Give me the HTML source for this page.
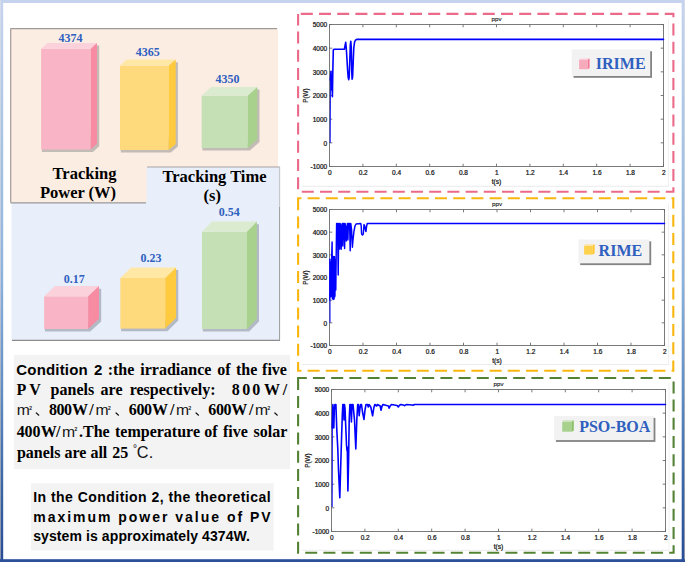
<!DOCTYPE html>
<html><head><meta charset="utf-8"><style>
html,body{margin:0;padding:0;background:#fff;}
body{width:685px;height:562px;overflow:hidden;font-family:"Liberation Sans",sans-serif;}
svg{display:block;}
</style></head><body>
<svg width="685" height="562" viewBox="0 0 685 562">

<defs>
 <linearGradient id="frameG" gradientUnits="userSpaceOnUse" x1="0" y1="0" x2="0" y2="562">
  <stop offset="0" stop-color="#c6d3ee"/>
  <stop offset="0.25" stop-color="#a8c4e4"/>
  <stop offset="0.5" stop-color="#8ab2de"/>
  <stop offset="0.72" stop-color="#5a88c0"/>
  <stop offset="0.86" stop-color="#3a66a8"/>
  <stop offset="1" stop-color="#284c98"/>
 </linearGradient>
 <linearGradient id="frameG2" gradientUnits="userSpaceOnUse" x1="0" y1="0" x2="0" y2="562">
  <stop offset="0" stop-color="#d6dcea"/>
  <stop offset="0.25" stop-color="#c8d4e0"/>
  <stop offset="0.5" stop-color="#c0c8d8"/>
  <stop offset="0.72" stop-color="#a0acbc"/>
  <stop offset="1" stop-color="#8a94a8"/>
 </linearGradient>
 <filter id="sh" x="-20%" y="-20%" width="150%" height="150%">
  <feGaussianBlur stdDeviation="1.2"/>
 </filter>
 <filter id="sh3" x="-20%" y="-20%" width="150%" height="150%">
  <feGaussianBlur stdDeviation="0.6"/>
 </filter>
 <filter id="sh2" x="-20%" y="-20%" width="150%" height="150%">
  <feGaussianBlur stdDeviation="0.8"/>
 </filter>
</defs>
<rect x="0" y="0" width="685" height="562" fill="#ffffff"/>
<rect x="11.5" y="166.5" width="268" height="173.5" fill="#e8effa"/>
<line x1="12" y1="340.3" x2="280" y2="340.3" stroke="#8c8c8c" stroke-width="1.2"/>
<line x1="279.6" y1="167" x2="279.6" y2="340.5" stroke="#9a9a9a" stroke-width="1"/>
<rect x="10.5" y="28.5" width="267.5" height="174" fill="#fcede3"/>
<line x1="10.5" y1="28.6" x2="277" y2="28.6" stroke="#a09a96" stroke-width="1.2"/>
<line x1="10.7" y1="28.5" x2="10.7" y2="202.5" stroke="#a09a96" stroke-width="1.2"/>
<line x1="10.5" y1="202.8" x2="146" y2="202.8" stroke="#9a9a9a" stroke-width="1.2"/>
<rect x="146.5" y="167" width="133" height="40" fill="#e8effa"/>
<line x1="147" y1="167" x2="279.6" y2="167" stroke="#a8a4a4" stroke-width="1.2"/>
<polygon points="41.9,148.5 41.9,152.1 92.9,152.1 99.2,146.3 99.2,45.5 96,45.5 89.7,148.5" fill="#c2bbb6" filter="url(#sh3)"/>
<rect x="41.1" y="48.7" width="49.6" height="100.8" fill="#f9b5c5"/>
<polygon points="41.1,48.7 47.4,42.9 97,42.9 90.7,48.7" fill="#fbd2dc"/>
<polygon points="90.7,48.7 97,42.9 97,143.7 90.7,149.5" fill="#f68ba2"/>
<polygon points="120.8,149 120.8,152.6 170.9,152.6 177.9,146.6 177.9,62.2 174.7,62.2 167.7,149" fill="#c2bbb6" filter="url(#sh3)"/>
<rect x="120" y="65.6" width="48.7" height="84.4" fill="#ffda7c"/>
<polygon points="120,65.6 127,59.6 175.7,59.6 168.7,65.6" fill="#ffe7a6"/>
<polygon points="168.7,65.6 175.7,59.6 175.7,144 168.7,150" fill="#ffca3e"/>
<polygon points="202.4,147 202.4,150.6 250,150.6 259.5,142 259.5,89.6 256.3,89.6 246.8,147" fill="#c2bbb6" filter="url(#sh3)"/>
<rect x="201.6" y="95.6" width="46.2" height="52.4" fill="#c5e0b4"/>
<polygon points="201.6,95.6 211.1,87 257.3,87 247.8,95.6" fill="#dbebd0"/>
<polygon points="247.8,95.6 257.3,87 257.3,139.4 247.8,148" fill="#a9d18e"/>
<polygon points="44.9,328 44.9,331.6 90.3,331.6 101.2,321.4 101.2,288.7 98,288.7 87.1,328" fill="#b4b9c6" filter="url(#sh3)"/>
<rect x="44.1" y="296.3" width="44" height="32.7" fill="#f9b5c5"/>
<polygon points="44.1,296.3 55,286.1 99,286.1 88.1,296.3" fill="#fbd2dc"/>
<polygon points="88.1,296.3 99,286.1 99,318.8 88.1,329" fill="#f68ba2"/>
<polygon points="121.1,327.6 121.1,331.2 167.4,331.2 178.3,320.6 178.3,270 175.1,270 164.2,327.6" fill="#b4b9c6" filter="url(#sh3)"/>
<rect x="120.3" y="278" width="44.9" height="50.6" fill="#ffda7c"/>
<polygon points="120.3,278 131.2,267.4 176.1,267.4 165.2,278" fill="#ffe7a6"/>
<polygon points="165.2,278 176.1,267.4 176.1,318 165.2,328.6" fill="#ffca3e"/>
<polygon points="202.8,328 202.8,331.6 249.1,331.6 259,321.5 259,224.2 255.8,224.2 245.9,328" fill="#b4b9c6" filter="url(#sh3)"/>
<rect x="202" y="231.7" width="44.9" height="97.3" fill="#c5e0b4"/>
<polygon points="202,231.7 211.9,221.6 256.8,221.6 246.9,231.7" fill="#dbebd0"/>
<polygon points="246.9,231.7 256.8,221.6 256.8,318.9 246.9,329" fill="#a9d18e"/>
<text x="70.4" y="41.7" font-family="'Liberation Serif', serif" font-size="12" font-weight="bold" fill="#2f5fbf" text-anchor="middle" >4374</text>
<text x="147.8" y="56" font-family="'Liberation Serif', serif" font-size="12" font-weight="bold" fill="#2f5fbf" text-anchor="middle" >4365</text>
<text x="227.4" y="82.8" font-family="'Liberation Serif', serif" font-size="12" font-weight="bold" fill="#2f5fbf" text-anchor="middle" >4350</text>
<text x="74.2" y="282.6" font-family="'Liberation Serif', serif" font-size="12" font-weight="bold" fill="#2f5fbf" text-anchor="middle" >0.17</text>
<text x="151" y="261.8" font-family="'Liberation Serif', serif" font-size="12" font-weight="bold" fill="#2f5fbf" text-anchor="middle" >0.23</text>
<text x="229.2" y="216.3" font-family="'Liberation Serif', serif" font-size="12" font-weight="bold" fill="#2f5fbf" text-anchor="middle" >0.54</text>
<text x="84.5" y="178.7" font-family="'Liberation Serif', serif" font-size="16.5" font-weight="bold" fill="#000" text-anchor="middle" >Tracking</text>
<text x="78" y="197.7" font-family="'Liberation Serif', serif" font-size="16.5" font-weight="bold" fill="#000" text-anchor="middle" >Power (W)</text>
<text x="214.5" y="182.4" font-family="'Liberation Serif', serif" font-size="16.5" font-weight="bold" fill="#000" text-anchor="middle" >Tracking Time</text>
<text x="212.2" y="201" font-family="'Liberation Serif', serif" font-size="16.5" font-weight="bold" fill="#000" text-anchor="middle" >(s)</text>
<rect x="13.8" y="354.8" width="276.3" height="114.2" fill="#f3f3f3"/>
<rect x="31" y="483.2" width="242.6" height="67.4" fill="#f3f3f3"/>
<text x="16.3" y="375.3" font-family="'Liberation Sans', sans-serif" font-size="15" font-weight="bold" fill="#000" text-anchor="start" textLength="71.4" lengthAdjust="spacing">Condition</text>
<text x="94.1" y="375.3" font-family="'Liberation Sans', sans-serif" font-size="15" font-weight="bold" fill="#000" text-anchor="start" >2</text>
<text x="107.7" y="375.3" font-family="'Liberation Serif', serif" font-size="16" font-weight="bold" fill="#000" text-anchor="start" >:the</text>
<text x="140.3" y="375.3" font-family="'Liberation Serif', serif" font-size="16" font-weight="bold" fill="#000" text-anchor="start" >irradiance</text>
<text x="217.3" y="375.3" font-family="'Liberation Serif', serif" font-size="16" font-weight="bold" fill="#000" text-anchor="start" >of</text>
<text x="236" y="375.3" font-family="'Liberation Serif', serif" font-size="16" font-weight="bold" fill="#000" text-anchor="start" >the</text>
<text x="262.1" y="375.3" font-family="'Liberation Serif', serif" font-size="16" font-weight="bold" fill="#000" text-anchor="start" >five</text>
<text x="16.6" y="394.9" font-family="'Liberation Serif', serif" font-size="16" font-weight="bold" fill="#000" text-anchor="start" >P</text>
<text x="29.2" y="394.9" font-family="'Liberation Serif', serif" font-size="16" font-weight="bold" fill="#000" text-anchor="start" >V</text>
<text x="50.6" y="394.9" font-family="'Liberation Serif', serif" font-size="16" font-weight="bold" fill="#000" text-anchor="start" >panels</text>
<text x="100.6" y="394.9" font-family="'Liberation Serif', serif" font-size="16" font-weight="bold" fill="#000" text-anchor="start" >are</text>
<text x="129.7" y="394.9" font-family="'Liberation Serif', serif" font-size="16" font-weight="bold" fill="#000" text-anchor="start" >respectively:</text>
<text x="231.87" y="394.9" font-family="'Liberation Serif', serif" font-size="16" font-weight="bold" fill="#000" text-anchor="start" >8</text>
<text x="242.29" y="394.9" font-family="'Liberation Serif', serif" font-size="16" font-weight="bold" fill="#000" text-anchor="start" >0</text>
<text x="252.19" y="394.9" font-family="'Liberation Serif', serif" font-size="16" font-weight="bold" fill="#000" text-anchor="start" >0</text>
<text x="263.97" y="394.9" font-family="'Liberation Serif', serif" font-size="16" font-weight="bold" fill="#000" text-anchor="start" >W</text>
<text x="282.66" y="394.9" font-family="'Liberation Serif', serif" font-size="16" font-weight="bold" fill="#000" text-anchor="start" >/</text>
<text x="16.7" y="415.2" font-family="'Liberation Sans', sans-serif" font-size="15.5" fill="#141414" textLength="13.1" lengthAdjust="spacingAndGlyphs">m</text>
<text x="29.2" y="410.1" font-family="'Liberation Sans', sans-serif" font-size="4.8" fill="#141414" stroke="#141414" stroke-width="0.2">2</text>
<path d="M35.4,413 L36.5,412.3 Q38.2,413.7 39.5,415 L38.7,416 Q37.2,414.5 35.4,413 Z" fill="#111"/>
<text x="48.97" y="415.2" font-family="'Liberation Serif', serif" font-size="16" font-weight="bold" fill="#000" text-anchor="start" >8</text>
<text x="56.49" y="415.2" font-family="'Liberation Serif', serif" font-size="16" font-weight="bold" fill="#000" text-anchor="start" >0</text>
<text x="64.09" y="415.2" font-family="'Liberation Serif', serif" font-size="16" font-weight="bold" fill="#000" text-anchor="start" >0</text>
<text x="71.97" y="415.2" font-family="'Liberation Serif', serif" font-size="16" font-weight="bold" fill="#000" text-anchor="start" >W</text>
<text x="89.36" y="415.2" font-family="'Liberation Serif', serif" font-size="16" font-weight="bold" fill="#000" text-anchor="start" >/</text>
<text x="95.5" y="415.2" font-family="'Liberation Sans', sans-serif" font-size="15.5" fill="#141414" textLength="13.1" lengthAdjust="spacingAndGlyphs">m</text>
<text x="108" y="410.1" font-family="'Liberation Sans', sans-serif" font-size="4.8" fill="#141414" stroke="#141414" stroke-width="0.2">2</text>
<path d="M115.1,413 L116.2,412.3 Q117.9,413.7 119.2,415 L118.4,416 Q116.9,414.5 115.1,413 Z" fill="#111"/>
<text x="128.65" y="415.2" font-family="'Liberation Serif', serif" font-size="16" font-weight="bold" fill="#000" text-anchor="start" >6</text>
<text x="136.49" y="415.2" font-family="'Liberation Serif', serif" font-size="16" font-weight="bold" fill="#000" text-anchor="start" >0</text>
<text x="144.09" y="415.2" font-family="'Liberation Serif', serif" font-size="16" font-weight="bold" fill="#000" text-anchor="start" >0</text>
<text x="151.97" y="415.2" font-family="'Liberation Serif', serif" font-size="16" font-weight="bold" fill="#000" text-anchor="start" >W</text>
<text x="169.96" y="415.2" font-family="'Liberation Serif', serif" font-size="16" font-weight="bold" fill="#000" text-anchor="start" >/</text>
<text x="176.1" y="415.2" font-family="'Liberation Sans', sans-serif" font-size="15.5" fill="#141414" textLength="13.1" lengthAdjust="spacingAndGlyphs">m</text>
<text x="188.6" y="410.1" font-family="'Liberation Sans', sans-serif" font-size="4.8" fill="#141414" stroke="#141414" stroke-width="0.2">2</text>
<path d="M195.1,413 L196.2,412.3 Q197.9,413.7 199.2,415 L198.4,416 Q196.9,414.5 195.1,413 Z" fill="#111"/>
<text x="208.35" y="415.2" font-family="'Liberation Serif', serif" font-size="16" font-weight="bold" fill="#000" text-anchor="start" >6</text>
<text x="215.89" y="415.2" font-family="'Liberation Serif', serif" font-size="16" font-weight="bold" fill="#000" text-anchor="start" >0</text>
<text x="223.49" y="415.2" font-family="'Liberation Serif', serif" font-size="16" font-weight="bold" fill="#000" text-anchor="start" >0</text>
<text x="231.17" y="415.2" font-family="'Liberation Serif', serif" font-size="16" font-weight="bold" fill="#000" text-anchor="start" >W</text>
<text x="249.06" y="415.2" font-family="'Liberation Serif', serif" font-size="16" font-weight="bold" fill="#000" text-anchor="start" >/</text>
<text x="254.9" y="415.2" font-family="'Liberation Sans', sans-serif" font-size="15.5" fill="#141414" textLength="13.1" lengthAdjust="spacingAndGlyphs">m</text>
<text x="267.4" y="410.1" font-family="'Liberation Sans', sans-serif" font-size="4.8" fill="#141414" stroke="#141414" stroke-width="0.2">2</text>
<path d="M273.9,413 L275,412.3 Q276.7,413.7 278,415 L277.2,416 Q275.7,414.5 273.9,413 Z" fill="#111"/>
<text x="16.78" y="436.5" font-family="'Liberation Serif', serif" font-size="16" font-weight="bold" fill="#000" text-anchor="start" >4</text>
<text x="24.39" y="436.5" font-family="'Liberation Serif', serif" font-size="16" font-weight="bold" fill="#000" text-anchor="start" >0</text>
<text x="32.49" y="436.5" font-family="'Liberation Serif', serif" font-size="16" font-weight="bold" fill="#000" text-anchor="start" >0</text>
<text x="40.87" y="436.5" font-family="'Liberation Serif', serif" font-size="16" font-weight="bold" fill="#000" text-anchor="start" >W</text>
<text x="56.06" y="436.5" font-family="'Liberation Serif', serif" font-size="16" font-weight="bold" fill="#000" text-anchor="start" >/</text>
<text x="62.1" y="436.5" font-family="'Liberation Sans', sans-serif" font-size="15.5" fill="#141414" textLength="13.1" lengthAdjust="spacingAndGlyphs">m</text>
<text x="74.6" y="431.4" font-family="'Liberation Sans', sans-serif" font-size="4.8" fill="#141414" stroke="#141414" stroke-width="0.2">2</text>
<text x="79" y="436.5" font-family="'Liberation Serif', serif" font-size="16" font-weight="bold" fill="#000" text-anchor="start" >.The</text>
<text x="115" y="436.5" font-family="'Liberation Serif', serif" font-size="16" font-weight="bold" fill="#000" text-anchor="start" >temperature</text>
<text x="204.2" y="436.5" font-family="'Liberation Serif', serif" font-size="16" font-weight="bold" fill="#000" text-anchor="start" >of</text>
<text x="223" y="436.5" font-family="'Liberation Serif', serif" font-size="16" font-weight="bold" fill="#000" text-anchor="start" >five</text>
<text x="253.6" y="436.5" font-family="'Liberation Serif', serif" font-size="16" font-weight="bold" fill="#000" text-anchor="start" >solar</text>
<text x="16.9" y="457.8" font-family="'Liberation Serif', serif" font-size="16" font-weight="bold" fill="#000" text-anchor="start" >panels are all</text>
<text x="112.3" y="457.8" font-family="'Liberation Serif', serif" font-size="16" font-weight="bold" fill="#000" text-anchor="start" >25</text>
<text x="132.9" y="452.2" font-family="'Liberation Sans', sans-serif" font-size="10" font-weight="normal" fill="#111" text-anchor="start" >°</text>
<text x="136.7" y="458.2" font-family="'Liberation Sans', sans-serif" font-size="16.3" font-weight="normal" fill="#111" text-anchor="start" >C</text>
<text x="148.7" y="458.2" font-family="'Liberation Sans', sans-serif" font-size="16.3" font-weight="normal" fill="#111" text-anchor="start" >.</text>
<text x="33.2" y="502.2" font-family="'Liberation Sans', sans-serif" font-size="14" font-weight="bold" fill="#000" text-anchor="start" textLength="237.4" lengthAdjust="spacing">In the Condition 2, the theoretical</text>
<text x="33.2" y="521.9" font-family="'Liberation Sans', sans-serif" font-size="14" font-weight="bold" fill="#000" text-anchor="start" textLength="237.4" lengthAdjust="spacing">maximum power value of PV</text>
<text x="33.2" y="540.7" font-family="'Liberation Sans', sans-serif" font-size="14" font-weight="bold" fill="#000" text-anchor="start" textLength="216.8" lengthAdjust="spacing">system is approximately 4374W.</text>
<rect x="298.1" y="13.9" width="375.3" height="177.8" fill="none" stroke="#eb6a89" stroke-width="2.1" stroke-dasharray="12 6.2" stroke-dashoffset="-2.7"/>
<line x1="302.1" y1="186.3" x2="668.5" y2="186.3" stroke="#ececec" stroke-width="1"/>
<line x1="668.5" y1="18.9" x2="668.5" y2="186.3" stroke="#f0f0f0" stroke-width="1"/>
<rect x="329.5" y="24.5" width="334" height="142" fill="#fff" stroke="#7a7a7a" stroke-width="1"/>
<text x="327.2" y="27.4" font-family="'Liberation Sans', sans-serif" font-size="6.5" fill="#111" stroke="#111" stroke-width="0.22" text-anchor="end">5000</text>
<text x="327.2" y="51.07" font-family="'Liberation Sans', sans-serif" font-size="6.5" fill="#111" stroke="#111" stroke-width="0.22" text-anchor="end">4000</text>
<text x="327.2" y="74.73" font-family="'Liberation Sans', sans-serif" font-size="6.5" fill="#111" stroke="#111" stroke-width="0.22" text-anchor="end">3000</text>
<text x="327.2" y="98.4" font-family="'Liberation Sans', sans-serif" font-size="6.5" fill="#111" stroke="#111" stroke-width="0.22" text-anchor="end">2000</text>
<text x="327.2" y="122.07" font-family="'Liberation Sans', sans-serif" font-size="6.5" fill="#111" stroke="#111" stroke-width="0.22" text-anchor="end">1000</text>
<text x="327.2" y="145.73" font-family="'Liberation Sans', sans-serif" font-size="6.5" fill="#111" stroke="#111" stroke-width="0.22" text-anchor="end">0</text>
<text x="327.2" y="169.4" font-family="'Liberation Sans', sans-serif" font-size="6.5" fill="#111" stroke="#111" stroke-width="0.22" text-anchor="end">-1000</text>
<text x="329.8" y="175" font-family="'Liberation Sans', sans-serif" font-size="6.5" fill="#111" stroke="#111" stroke-width="0.22" text-anchor="middle">0</text>
<text x="363.2" y="175" font-family="'Liberation Sans', sans-serif" font-size="6.5" fill="#111" stroke="#111" stroke-width="0.22" text-anchor="middle">0.2</text>
<text x="396.6" y="175" font-family="'Liberation Sans', sans-serif" font-size="6.5" fill="#111" stroke="#111" stroke-width="0.22" text-anchor="middle">0.4</text>
<text x="430" y="175" font-family="'Liberation Sans', sans-serif" font-size="6.5" fill="#111" stroke="#111" stroke-width="0.22" text-anchor="middle">0.6</text>
<text x="463.4" y="175" font-family="'Liberation Sans', sans-serif" font-size="6.5" fill="#111" stroke="#111" stroke-width="0.22" text-anchor="middle">0.8</text>
<text x="496.8" y="175" font-family="'Liberation Sans', sans-serif" font-size="6.5" fill="#111" stroke="#111" stroke-width="0.22" text-anchor="middle">1</text>
<text x="530.2" y="175" font-family="'Liberation Sans', sans-serif" font-size="6.5" fill="#111" stroke="#111" stroke-width="0.22" text-anchor="middle">1.2</text>
<text x="563.6" y="175" font-family="'Liberation Sans', sans-serif" font-size="6.5" fill="#111" stroke="#111" stroke-width="0.22" text-anchor="middle">1.4</text>
<text x="597" y="175" font-family="'Liberation Sans', sans-serif" font-size="6.5" fill="#111" stroke="#111" stroke-width="0.22" text-anchor="middle">1.6</text>
<text x="630.4" y="175" font-family="'Liberation Sans', sans-serif" font-size="6.5" fill="#111" stroke="#111" stroke-width="0.22" text-anchor="middle">1.8</text>
<text x="663.8" y="175" font-family="'Liberation Sans', sans-serif" font-size="6.5" fill="#111" stroke="#111" stroke-width="0.22" text-anchor="middle">2</text>
<path d="M329.5,24.5h2.8M663.5,24.5h-2.8M329.5,48.17h2.8M663.5,48.17h-2.8M329.5,71.83h2.8M663.5,71.83h-2.8M329.5,95.5h2.8M663.5,95.5h-2.8M329.5,119.17h2.8M663.5,119.17h-2.8M329.5,142.83h2.8M663.5,142.83h-2.8M329.5,166.5h2.8M663.5,166.5h-2.8M329.5,166.5v-2.8M329.5,24.5v2.8M362.9,166.5v-2.8M362.9,24.5v2.8M396.3,166.5v-2.8M396.3,24.5v2.8M429.7,166.5v-2.8M429.7,24.5v2.8M463.1,166.5v-2.8M463.1,24.5v2.8M496.5,166.5v-2.8M496.5,24.5v2.8M529.9,166.5v-2.8M529.9,24.5v2.8M563.3,166.5v-2.8M563.3,24.5v2.8M596.7,166.5v-2.8M596.7,24.5v2.8M630.1,166.5v-2.8M630.1,24.5v2.8M663.5,166.5v-2.8M663.5,24.5v2.8" stroke="#6a6a6a" stroke-width="0.9" fill="none"/>
<text x="496.5" y="21.4" font-family="'Liberation Sans', sans-serif" font-size="6.2" fill="#111" stroke="#111" stroke-width="0.12" text-anchor="middle">ppv</text>
<text x="496.5" y="184" font-family="'Liberation Sans', sans-serif" font-size="6.7" fill="#111" stroke="#111" stroke-width="0.22" text-anchor="middle">t(s)</text>
<text x="0" y="0" transform="translate(308.3,95.5) rotate(-90)" font-family="'Liberation Sans', sans-serif" font-size="6.3" fill="#111" stroke="#111" stroke-width="0.18" text-anchor="middle">P(W)</text>
<line x1="330.2" y1="143" x2="330.5" y2="80" stroke="#2020f0" stroke-width="1.1"/>
<polyline points="330.3,80 331,71.3 331.5,90 332,75 332.4,96.8 332.8,72 333.3,50 334,49.2 344.4,49.2 345,46 345.7,42.3 346.4,50 347.6,70 348.2,77.5 348.7,79.6 349.2,77 349.8,60 350.3,45 350.8,41.2 351.3,48 351.7,70 352.1,79.1 352.6,77 353.2,62 353.8,48 354.5,42.3 355.4,40.2 356.7,39.4 663.5,39.4" fill="none" stroke="#0000ff" stroke-width="1.6" stroke-linejoin="round" stroke-linecap="round"/>
<rect x="573.5" y="51.2" width="78.5" height="26.6" fill="#6e6e6e" filter="url(#sh3)" opacity="0.85"/>
<rect x="571.7" y="49.4" width="78.5" height="26.6" fill="#f2f2f2"/>
<rect x="579.1" y="59.6" width="8.7" height="9.6" fill="#f8aabd"/>
<polygon points="579.1,59.6 580.9,58.4 589.6,58.4 587.8,59.6" fill="#fbcbd6"/>
<polygon points="587.8,59.6 589.6,58.4 589.6,68 587.8,69.2" fill="#f47a98"/>
<text x="595.8" y="68.6" font-family="'Liberation Serif', serif" font-size="16" font-weight="bold" fill="#2f5fbf">IRIME</text>
<rect x="298.1" y="198.3" width="375.2" height="172.4" fill="none" stroke="#f9b60f" stroke-width="2.1" stroke-dasharray="12 6.2" stroke-dashoffset="8.7"/>
<line x1="302.1" y1="364.5" x2="668.5" y2="364.5" stroke="#ececec" stroke-width="1"/>
<line x1="668.5" y1="203.3" x2="668.5" y2="364.5" stroke="#f0f0f0" stroke-width="1"/>
<rect x="329.5" y="209.5" width="335" height="136" fill="#fff" stroke="#7a7a7a" stroke-width="1"/>
<text x="327.2" y="212.4" font-family="'Liberation Sans', sans-serif" font-size="6.5" fill="#111" stroke="#111" stroke-width="0.22" text-anchor="end">5000</text>
<text x="327.2" y="235.07" font-family="'Liberation Sans', sans-serif" font-size="6.5" fill="#111" stroke="#111" stroke-width="0.22" text-anchor="end">4000</text>
<text x="327.2" y="257.73" font-family="'Liberation Sans', sans-serif" font-size="6.5" fill="#111" stroke="#111" stroke-width="0.22" text-anchor="end">3000</text>
<text x="327.2" y="280.4" font-family="'Liberation Sans', sans-serif" font-size="6.5" fill="#111" stroke="#111" stroke-width="0.22" text-anchor="end">2000</text>
<text x="327.2" y="303.07" font-family="'Liberation Sans', sans-serif" font-size="6.5" fill="#111" stroke="#111" stroke-width="0.22" text-anchor="end">1000</text>
<text x="327.2" y="325.73" font-family="'Liberation Sans', sans-serif" font-size="6.5" fill="#111" stroke="#111" stroke-width="0.22" text-anchor="end">0</text>
<text x="327.2" y="348.4" font-family="'Liberation Sans', sans-serif" font-size="6.5" fill="#111" stroke="#111" stroke-width="0.22" text-anchor="end">-1000</text>
<text x="329.8" y="354" font-family="'Liberation Sans', sans-serif" font-size="6.5" fill="#111" stroke="#111" stroke-width="0.22" text-anchor="middle">0</text>
<text x="363.3" y="354" font-family="'Liberation Sans', sans-serif" font-size="6.5" fill="#111" stroke="#111" stroke-width="0.22" text-anchor="middle">0.2</text>
<text x="396.8" y="354" font-family="'Liberation Sans', sans-serif" font-size="6.5" fill="#111" stroke="#111" stroke-width="0.22" text-anchor="middle">0.4</text>
<text x="430.3" y="354" font-family="'Liberation Sans', sans-serif" font-size="6.5" fill="#111" stroke="#111" stroke-width="0.22" text-anchor="middle">0.6</text>
<text x="463.8" y="354" font-family="'Liberation Sans', sans-serif" font-size="6.5" fill="#111" stroke="#111" stroke-width="0.22" text-anchor="middle">0.8</text>
<text x="497.3" y="354" font-family="'Liberation Sans', sans-serif" font-size="6.5" fill="#111" stroke="#111" stroke-width="0.22" text-anchor="middle">1</text>
<text x="530.8" y="354" font-family="'Liberation Sans', sans-serif" font-size="6.5" fill="#111" stroke="#111" stroke-width="0.22" text-anchor="middle">1.2</text>
<text x="564.3" y="354" font-family="'Liberation Sans', sans-serif" font-size="6.5" fill="#111" stroke="#111" stroke-width="0.22" text-anchor="middle">1.4</text>
<text x="597.8" y="354" font-family="'Liberation Sans', sans-serif" font-size="6.5" fill="#111" stroke="#111" stroke-width="0.22" text-anchor="middle">1.6</text>
<text x="631.3" y="354" font-family="'Liberation Sans', sans-serif" font-size="6.5" fill="#111" stroke="#111" stroke-width="0.22" text-anchor="middle">1.8</text>
<text x="664.8" y="354" font-family="'Liberation Sans', sans-serif" font-size="6.5" fill="#111" stroke="#111" stroke-width="0.22" text-anchor="middle">2</text>
<path d="M329.5,209.5h2.8M664.5,209.5h-2.8M329.5,232.17h2.8M664.5,232.17h-2.8M329.5,254.83h2.8M664.5,254.83h-2.8M329.5,277.5h2.8M664.5,277.5h-2.8M329.5,300.17h2.8M664.5,300.17h-2.8M329.5,322.83h2.8M664.5,322.83h-2.8M329.5,345.5h2.8M664.5,345.5h-2.8M329.5,345.5v-2.8M329.5,209.5v2.8M363,345.5v-2.8M363,209.5v2.8M396.5,345.5v-2.8M396.5,209.5v2.8M430,345.5v-2.8M430,209.5v2.8M463.5,345.5v-2.8M463.5,209.5v2.8M497,345.5v-2.8M497,209.5v2.8M530.5,345.5v-2.8M530.5,209.5v2.8M564,345.5v-2.8M564,209.5v2.8M597.5,345.5v-2.8M597.5,209.5v2.8M631,345.5v-2.8M631,209.5v2.8M664.5,345.5v-2.8M664.5,209.5v2.8" stroke="#6a6a6a" stroke-width="0.9" fill="none"/>
<text x="497" y="206.4" font-family="'Liberation Sans', sans-serif" font-size="6.2" fill="#111" stroke="#111" stroke-width="0.12" text-anchor="middle">ppv</text>
<text x="497" y="363" font-family="'Liberation Sans', sans-serif" font-size="6.7" fill="#111" stroke="#111" stroke-width="0.22" text-anchor="middle">t(s)</text>
<text x="0" y="0" transform="translate(308.3,277.5) rotate(-90)" font-family="'Liberation Sans', sans-serif" font-size="6.3" fill="#111" stroke="#111" stroke-width="0.18" text-anchor="middle">P(W)</text>
<line x1="330" y1="322.8" x2="330" y2="300" stroke="#2020f0" stroke-width="1.1"/>
<polyline points="329.8,300 329.9,259.24 330.32,297.06 330.74,262.51 331.16,296.51 331.58,261.36 332.1,242 332.4,298.56 332.82,256.58 333.24,299.55 333.66,256.37 334.08,299.04 334.5,256.7 334.92,296.63 335.34,260.25 335.8,290 336.2,255 336.6,223.5 337.5,223.5 338.2,275 338.8,223.5 339.1,223.5 339.6,249 340.1,223.5 340.7,226 341.2,249.3 341.7,226 342.3,223.5 342.8,246 343.3,223.5 344.1,223.5 344.6,248.6 345.1,223.5 345.8,228 346.3,241 346.8,228 347.4,223.5 347.9,240 348.4,223.5 349.6,223.5 350.2,250.7 350.8,223.5 351.6,230 352.4,247.2 353,240 354,231 355,226 356,224 360.8,223.5 361.2,226 361.6,234 362.5,235 363.3,234 363.6,230 364,224.5 364.8,226 365.6,231 366,231.4 366.5,227 367.2,223.5 664.5,223.5" fill="none" stroke="#0000ff" stroke-width="1.45" stroke-linejoin="round" stroke-linecap="round"/>
<rect x="580.2" y="241.3" width="71" height="23.8" fill="#6e6e6e" filter="url(#sh3)" opacity="0.85"/>
<rect x="578.4" y="239.5" width="71" height="23.8" fill="#f2f2f2"/>
<rect x="584.1" y="245.6" width="8.7" height="9" fill="#ffd24e"/>
<polygon points="584.1,245.6 585.9,244.3 594.6,244.3 592.8,245.6" fill="#ffe39a"/>
<polygon points="592.8,245.6 594.6,244.3 594.6,253.3 592.8,254.6" fill="#ffc42a"/>
<text x="598.6" y="255.8" font-family="'Liberation Serif', serif" font-size="16" font-weight="bold" fill="#2f5fbf">RIME</text>
<rect x="298.1" y="378" width="375.5" height="174.8" fill="none" stroke="#548235" stroke-width="2.1" stroke-dasharray="12 6.2" stroke-dashoffset="3.3"/>
<line x1="302.1" y1="550.3" x2="669" y2="550.3" stroke="#ececec" stroke-width="1"/>
<line x1="669" y1="383" x2="669" y2="550.3" stroke="#f0f0f0" stroke-width="1"/>
<rect x="331.5" y="389.5" width="334" height="142" fill="#fff" stroke="#7a7a7a" stroke-width="1"/>
<text x="329.2" y="392.4" font-family="'Liberation Sans', sans-serif" font-size="6.5" fill="#111" stroke="#111" stroke-width="0.22" text-anchor="end">5000</text>
<text x="329.2" y="416.07" font-family="'Liberation Sans', sans-serif" font-size="6.5" fill="#111" stroke="#111" stroke-width="0.22" text-anchor="end">4000</text>
<text x="329.2" y="439.73" font-family="'Liberation Sans', sans-serif" font-size="6.5" fill="#111" stroke="#111" stroke-width="0.22" text-anchor="end">3000</text>
<text x="329.2" y="463.4" font-family="'Liberation Sans', sans-serif" font-size="6.5" fill="#111" stroke="#111" stroke-width="0.22" text-anchor="end">2000</text>
<text x="329.2" y="487.07" font-family="'Liberation Sans', sans-serif" font-size="6.5" fill="#111" stroke="#111" stroke-width="0.22" text-anchor="end">1000</text>
<text x="329.2" y="510.73" font-family="'Liberation Sans', sans-serif" font-size="6.5" fill="#111" stroke="#111" stroke-width="0.22" text-anchor="end">0</text>
<text x="329.2" y="534.4" font-family="'Liberation Sans', sans-serif" font-size="6.5" fill="#111" stroke="#111" stroke-width="0.22" text-anchor="end">-1000</text>
<text x="331.8" y="540" font-family="'Liberation Sans', sans-serif" font-size="6.5" fill="#111" stroke="#111" stroke-width="0.22" text-anchor="middle">0</text>
<text x="365.2" y="540" font-family="'Liberation Sans', sans-serif" font-size="6.5" fill="#111" stroke="#111" stroke-width="0.22" text-anchor="middle">0.2</text>
<text x="398.6" y="540" font-family="'Liberation Sans', sans-serif" font-size="6.5" fill="#111" stroke="#111" stroke-width="0.22" text-anchor="middle">0.4</text>
<text x="432" y="540" font-family="'Liberation Sans', sans-serif" font-size="6.5" fill="#111" stroke="#111" stroke-width="0.22" text-anchor="middle">0.6</text>
<text x="465.4" y="540" font-family="'Liberation Sans', sans-serif" font-size="6.5" fill="#111" stroke="#111" stroke-width="0.22" text-anchor="middle">0.8</text>
<text x="498.8" y="540" font-family="'Liberation Sans', sans-serif" font-size="6.5" fill="#111" stroke="#111" stroke-width="0.22" text-anchor="middle">1</text>
<text x="532.2" y="540" font-family="'Liberation Sans', sans-serif" font-size="6.5" fill="#111" stroke="#111" stroke-width="0.22" text-anchor="middle">1.2</text>
<text x="565.6" y="540" font-family="'Liberation Sans', sans-serif" font-size="6.5" fill="#111" stroke="#111" stroke-width="0.22" text-anchor="middle">1.4</text>
<text x="599" y="540" font-family="'Liberation Sans', sans-serif" font-size="6.5" fill="#111" stroke="#111" stroke-width="0.22" text-anchor="middle">1.6</text>
<text x="632.4" y="540" font-family="'Liberation Sans', sans-serif" font-size="6.5" fill="#111" stroke="#111" stroke-width="0.22" text-anchor="middle">1.8</text>
<text x="665.8" y="540" font-family="'Liberation Sans', sans-serif" font-size="6.5" fill="#111" stroke="#111" stroke-width="0.22" text-anchor="middle">2</text>
<path d="M331.5,389.5h2.8M665.5,389.5h-2.8M331.5,413.17h2.8M665.5,413.17h-2.8M331.5,436.83h2.8M665.5,436.83h-2.8M331.5,460.5h2.8M665.5,460.5h-2.8M331.5,484.17h2.8M665.5,484.17h-2.8M331.5,507.83h2.8M665.5,507.83h-2.8M331.5,531.5h2.8M665.5,531.5h-2.8M331.5,531.5v-2.8M331.5,389.5v2.8M364.9,531.5v-2.8M364.9,389.5v2.8M398.3,531.5v-2.8M398.3,389.5v2.8M431.7,531.5v-2.8M431.7,389.5v2.8M465.1,531.5v-2.8M465.1,389.5v2.8M498.5,531.5v-2.8M498.5,389.5v2.8M531.9,531.5v-2.8M531.9,389.5v2.8M565.3,531.5v-2.8M565.3,389.5v2.8M598.7,531.5v-2.8M598.7,389.5v2.8M632.1,531.5v-2.8M632.1,389.5v2.8M665.5,531.5v-2.8M665.5,389.5v2.8" stroke="#6a6a6a" stroke-width="0.9" fill="none"/>
<text x="498.5" y="386.4" font-family="'Liberation Sans', sans-serif" font-size="6.2" fill="#111" stroke="#111" stroke-width="0.12" text-anchor="middle">ppv</text>
<text x="498.5" y="549" font-family="'Liberation Sans', sans-serif" font-size="6.7" fill="#111" stroke="#111" stroke-width="0.22" text-anchor="middle">t(s)</text>
<text x="0" y="0" transform="translate(310.3,460.5) rotate(-90)" font-family="'Liberation Sans', sans-serif" font-size="6.3" fill="#111" stroke="#111" stroke-width="0.18" text-anchor="middle">P(W)</text>
<line x1="332.2" y1="507" x2="332.4" y2="428.3" stroke="#2020f0" stroke-width="1.1"/>
<polyline points="332.2,428.3 332.9,404.5 333.4,420 333.8,428 334.3,410 334.9,404.5 335.9,404.5 336.8,430 337.8,449 338.5,470 339.8,497.8 340.6,470 341.5,440 342.3,415 342.8,404.5 343.5,404.5 344,420 344.5,404.5 345,408 345.7,425 346.5,445 347,450.8 347.3,447 347.9,491 348.6,460 349.2,420 349.9,404.5 350.8,404.5 351.4,422 352,404.5 353,404.5 354.5,420 355.8,448.9 356.8,420 357.7,404.5 358.5,404.5 359.2,415.6 360,408 360.7,404.5 361.5,404.5 362.5,412 364,419.5 365,410 366,404.5 367.5,404.5 368.3,407 369,404.5 370.8,407 372.6,415.8 373.8,408 374.8,404.5 376.7,406 377.5,404.5 380.2,406 381,410.2 381.9,406.5 383,404.5 388.4,406 389.2,408.1 390.1,406 391.5,404.5 397.1,405.5 398.3,406.9 399.5,405.3 401,404.5 404,405.2 404.7,405.7 405.5,405 407,404.5 412,405 413,405.3 414.5,404.5 665.5,404.5" fill="none" stroke="#0000ff" stroke-width="1.6" stroke-linejoin="round" stroke-linecap="round"/>
<rect x="555.9" y="417.9" width="99.5" height="24" fill="#6e6e6e" filter="url(#sh3)" opacity="0.85"/>
<rect x="554.1" y="416.1" width="99.5" height="24" fill="#f2f2f2"/>
<rect x="562.2" y="421.6" width="9.8" height="10.1" fill="#a9d18e"/>
<polygon points="562.2,421.6 564,420.3 573.8,420.3 572,421.6" fill="#c8e2b8"/>
<polygon points="572,421.6 573.8,420.3 573.8,430.4 572,431.7" fill="#8cc168"/>
<text x="579.2" y="431.9" font-family="'Liberation Serif', serif" font-size="16" font-weight="bold" fill="#2f5fbf">PSO-BOA</text>
<rect x="0" y="0" width="685" height="3" fill="url(#frameG)"/>
<rect x="0" y="0" width="3.2" height="562" fill="url(#frameG)"/>
<rect x="0" y="0" width="1" height="562" fill="url(#frameG2)"/>
<rect x="681.7" y="0" width="3.3" height="562" fill="url(#frameG)"/>
<rect x="684" y="0" width="1" height="562" fill="url(#frameG2)"/>
<rect x="0" y="559.2" width="685" height="2.8" fill="#2c4f9a"/>
</svg>
</body></html>
